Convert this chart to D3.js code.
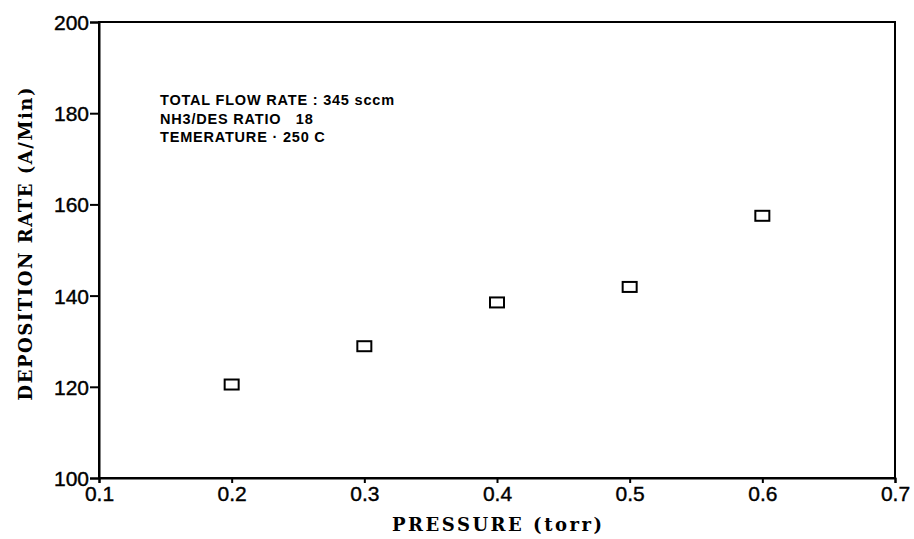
<!DOCTYPE html>
<html>
<head>
<meta charset="utf-8">
<script src="https://cdn.jsdelivr.net/npm/d3@7"></script>
<style>
  body { margin: 0; background: #fff; }
  svg { display: block; }
</style>
</head>
<body>
<div id="chart"></div>
<script>
// data
const pressure = [0.2, 0.3, 0.4, 0.5, 0.6];
const depositionRate = [120.5, 128.9, 138.5, 141.9, 157.5];
const xTicks = [0.1, 0.2, 0.3, 0.4, 0.5, 0.6, 0.7];
const yTicks = [100, 120, 140, 160, 180, 200];
const notes = ["TOTAL FLOW RATE : 345 sccm", "NH3/DES RATIO   18", "TEMERATURE \u00b7 250 C"];

const svgWidth = 914;
const svgHeight = 539;
const margin = { top: 22, right: 19, bottom: 61, left: 99 };
const width = svgWidth - margin.left - margin.right;
const height = svgHeight - margin.top - margin.bottom;

const svg = d3.select("#chart")
    .append("svg")
    .attr("width", svgWidth)
    .attr("height", svgHeight);

const chartGroup = svg.append("g")
    .attr("transform", `translate(${margin.left}, ${margin.top})`);

const x = d3.scaleLinear().domain([0.1, 0.7]).range([0, width]);
const y = d3.scaleLinear().domain([100, 200]).range([height, 0]);

// frame
chartGroup.append("rect")
    .attr("width", width)
    .attr("height", height)
    .attr("fill", "none")
    .attr("stroke", "#000")
    .attr("stroke-width", 2);

// axes
const xAxis = chartGroup.append("g")
    .attr("transform", `translate(0, ${height})`)
    .call(d3.axisBottom(x).tickValues(xTicks).tickFormat(d3.format(".1f")).tickSize(5).tickPadding(3));

const yAxis = chartGroup.append("g")
    .call(d3.axisLeft(y).tickValues(yTicks).tickSize(9).tickPadding(1));

[xAxis, yAxis].forEach(a => {
    a.select(".domain").attr("stroke-width", 2);
    a.selectAll(".tick line").attr("stroke-width", 2);
    a.selectAll(".tick text")
        .attr("fill", "#000")
        .attr("stroke", "#000")
        .attr("stroke-width", 0.4)
        .style("font-family", "'Liberation Sans', Arial, sans-serif")
        .style("font-size", "21px");
});
yAxis.selectAll(".tick text").attr("dy", "0.36em");

// points
chartGroup.selectAll("rect.pt")
    .data(pressure)
    .enter()
    .append("rect")
    .attr("class", "pt")
    .attr("x", d => x(d) - 7)
    .attr("y", (d, i) => y(depositionRate[i]) - 5)
    .attr("width", 14)
    .attr("height", 10)
    .attr("fill", "#fff")
    .attr("stroke", "#000")
    .attr("stroke-width", 2);

// notes
chartGroup.selectAll("text.note")
    .data(notes)
    .enter()
    .append("text")
    .attr("class", "note")
    .attr("x", 61)
    .attr("y", (d, i) => 83 + i * 18.5)
    .attr("fill", "#000")
    .style("white-space", "pre")
    .style("font-family", "'Liberation Sans', Arial, sans-serif")
    .style("font-size", "14.5px")
    .style("font-weight", "bold")
    .style("letter-spacing", "0.8px")
    .text(d => d);

// axis titles (no serif monospace available, so a serif stretched to the same length)
const titleFont = "'DejaVu Serif', 'Liberation Serif', serif";

svg.append("text")
    .attr("x", margin.left + width / 2)
    .attr("y", 531)
    .attr("text-anchor", "middle")
    .attr("textLength", 210)
    .attr("lengthAdjust", "spacing")
    .style("font-family", titleFont)
    .style("font-size", "18px")
    .style("font-weight", "bold")
    .text("PRESSURE (torr)");

svg.append("text")
    .attr("transform", `translate(32, 244) rotate(-90)`)
    .attr("text-anchor", "middle")
    .attr("textLength", 313)
    .attr("lengthAdjust", "spacing")
    .style("font-family", titleFont)
    .style("font-size", "18px")
    .style("font-weight", "bold")
    .text("DEPOSITION RATE (A/Min)");
</script>
</body>
</html>
